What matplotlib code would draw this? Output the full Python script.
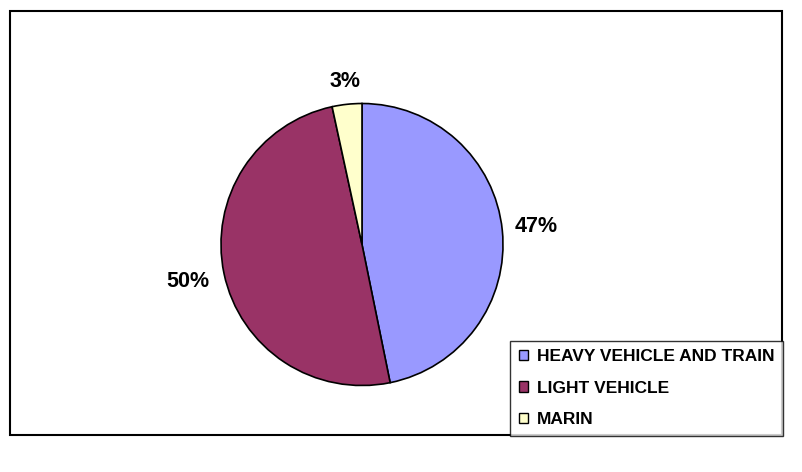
import numpy as np
import matplotlib
matplotlib.use('Agg')
import matplotlib.pyplot as plt
from matplotlib.patches import Patch, Rectangle

# данные
categories = ['HEAVY VEHICLE AND TRAIN', 'LIGHT VEHICLE', 'MARIN']
values = [46.8, 49.8, 3.4]
labels_pct = ['47%', '50%', '3%']
colors = ['#9999FF', '#993366', '#FFFFCC']
label_dist = [1.24, 1.26, 1.16]

plt.rcParams['font.family'] = ['Liberation Sans', 'DejaVu Sans']

W, H = 802, 472
fig = plt.figure(figsize=(W / 100, H / 100), dpi=100)
ax = fig.add_axes([0, 0, 1, 1])
ax.set_xlim(0, W)
ax.set_ylim(0, H)
ax.set_aspect('equal')
ax.axis('off')

# рамка вокруг диаграммы
ax.add_patch(Rectangle((10, H - 435), 772, 424, fill=False, edgecolor='black', linewidth=1.5))

cx, cy, r = 362, H - 244.5, 141
wedges, _ = ax.pie(values, colors=colors, startangle=90, counterclock=False,
                   center=(cx, cy), radius=r,
                   wedgeprops=dict(edgecolor='black', linewidth=1.2))
ax.set_xlim(0, W)
ax.set_ylim(0, H)

# подписи процентов
for w, txt, d in zip(wedges, labels_pct, label_dist):
    ang = np.deg2rad((w.theta1 + w.theta2) / 2)
    ax.text(cx + r * d * np.cos(ang), cy + r * d * np.sin(ang), txt,
            ha='center', va='center', fontsize=15.5, fontweight='bold')

handles = [Patch(facecolor=c, edgecolor='black', linewidth=1) for c in colors]
leg = fig.legend(handles, categories, loc='lower right',
                 bbox_to_anchor=(783 / W, 1 - 436 / H), borderaxespad=0,
                 prop=dict(size=12.5, weight='bold'), frameon=True, fancybox=False,
                 handlelength=0.55, handleheight=0.55, handletextpad=0.5,
                 labelspacing=0.95, borderpad=0.5)
leg.get_frame().set_edgecolor('black')
leg.get_frame().set_linewidth(1)

fig.savefig('out.png', dpi=100)
